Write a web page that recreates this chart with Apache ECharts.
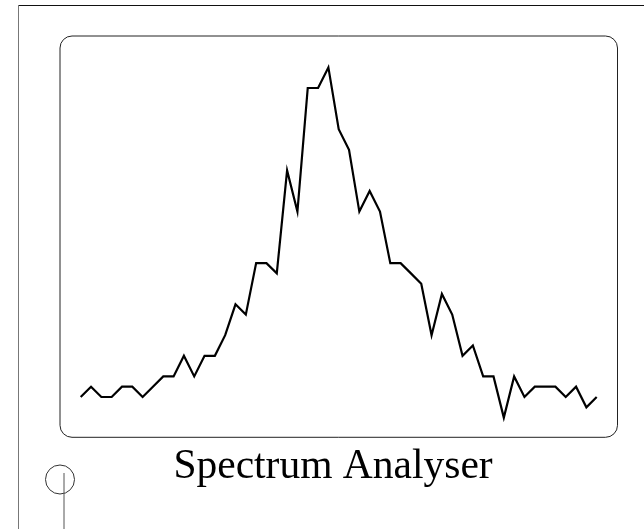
<!DOCTYPE html>
<html>
<head>
<meta charset="utf-8">
<script src="https://cdn.jsdelivr.net/npm/echarts@6/dist/echarts.min.js"></script>
<style>
html,body{margin:0;padding:0;background:#fff;}
#chart{width:644px;height:529px;}
</style>
</head>
<body>
<div id="chart"></div>
<script>
// Data
const titleText = 'Spectrum Analyser';
const bins = ['1','2','3','4','5','6','7','8','9','10','11','12','13','14','15','16','17','18','19','20',
  '21','22','23','24','25','26','27','28','29','30','31','32','33','34','35','36','37','38','39','40',
  '41','42','43','44','45','46','47','48','49','50','51'];
const levels = [0,1,0,0,1,1,0,1,2,2,4,2,4,4,6,9,8,13,13,12,22,18,30,30,32,26,24,18,20,18,
  13,13,12,11,6,10,8,4,5,2,2,-2,2,0,1,1,1,0,1,-1,0];

const chart = echarts.init(document.getElementById('chart'), null, {renderer: 'canvas'});
chart.setOption({
  animation: false,
  backgroundColor: '#ffffff',
  title: {
    text: titleText,
    left: 328,
    textAlign: 'center',
    top: 441,
    textStyle: {fontFamily: 'Liberation Serif', fontSize: 41.5, fontWeight: 'normal', color: '#000'}
  },
  grid: {left: 80.7, right: 644 - 596.7, top: 46.8, height: 391.4},
  xAxis: {type: 'category', data: bins, boundaryGap: false, show: false},
  yAxis: {type: 'value', min: -4, max: 34, show: false, splitLine: {show: false}},
  graphic: [
    {type: 'line', shape: {x1: 18, y1: 5.5, x2: 644, y2: 5.5}, style: {stroke: '#111', lineWidth: 1}, silent: true},
    {type: 'line', shape: {x1: 18.5, y1: 5, x2: 18.5, y2: 529}, style: {stroke: '#777', lineWidth: 1}, silent: true},
    {type: 'rect', shape: {x: 60, y: 36, width: 557.5, height: 401.3, r: 12}, style: {fill: 'none', stroke: '#222', lineWidth: 1}, silent: true, z: -1},
    {type: 'circle', shape: {cx: 60, cy: 479.5, r: 14.5}, style: {fill: 'none', stroke: '#333', lineWidth: 1}, silent: true},
    {type: 'line', shape: {x1: 64, y1: 473, x2: 64, y2: 529}, style: {stroke: '#555', lineWidth: 1}, silent: true}
  ],
  series: [{
    type: 'line',
    data: levels,
    symbol: 'none',
    lineStyle: {color: '#000', width: 2.2, join: 'miter'},
    silent: true
  }]
});
</script>
</body>
</html>
